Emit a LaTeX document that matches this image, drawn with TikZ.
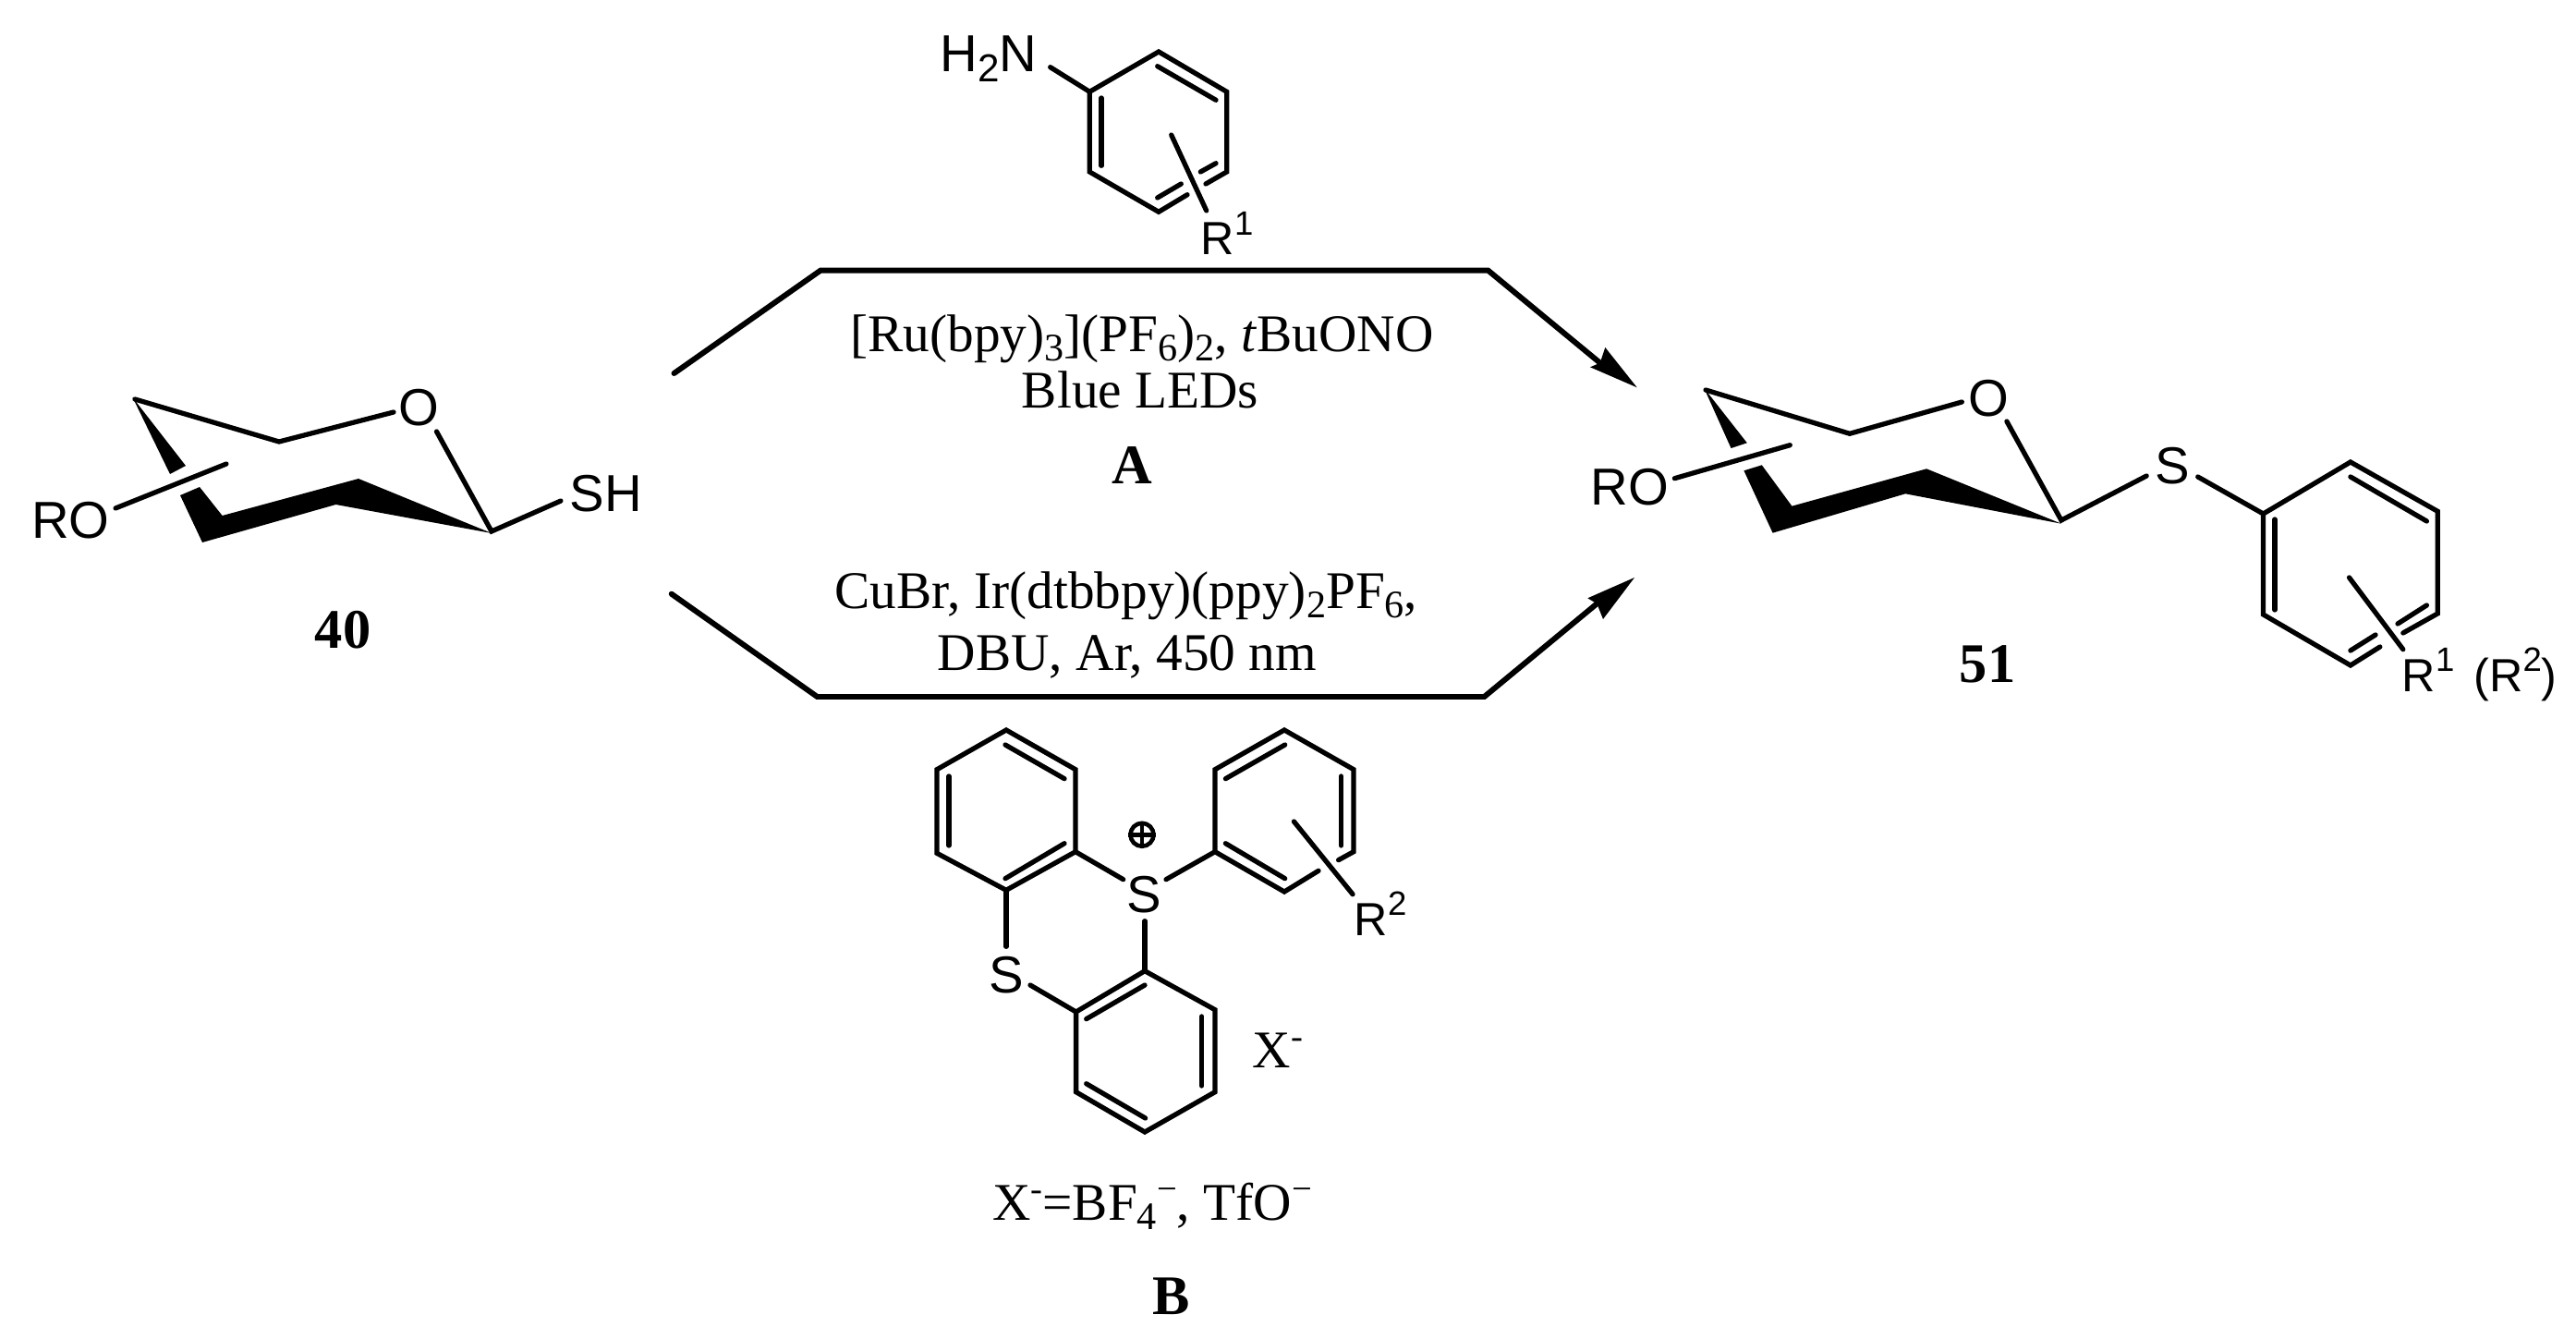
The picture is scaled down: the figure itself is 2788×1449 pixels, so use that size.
\documentclass[tikz,border=0pt]{standalone}
\usepackage{fontspec}
\setmainfont{Liberation Serif}
\newfontfamily\arial{Liberation Sans}
\newcommand{\serifsize}{\fontsize{16.3}{19}\selectfont}
\newcommand{\labsize}{\fontsize{17.2}{20}\selectfont\bfseries}
\newcommand{\sanssize}{\fontsize{16}{19}\selectfont}
\newcommand{\rsize}{\fontsize{14.3}{17}\selectfont}
\newcommand{\dn}[1]{\raisebox{-3pt}{\fontsize{12}{14}\selectfont #1}}
\newcommand{\up}[1]{\raisebox{5.8pt}{\fontsize{11}{13}\selectfont #1}}
\newcommand{\rup}[1]{\raisebox{6.2pt}{\fontsize{10.4}{12}\selectfont #1}}
\tikzset{
  bond/.style={line width=1.5pt,line cap=round,line join=miter,miter limit=10},
  wedge/.style={fill=black,draw=none},
  rxn/.style={line width=1.7pt,line join=miter,line cap=round},
  tip/.style={fill=black,draw=none},
  serif/.style={anchor=base,inner sep=0pt,font=\serifsize},
  label/.style={anchor=base,inner sep=0pt,font=\labsize},
  atom/.style={anchor=base,inner sep=0pt,font=\arial\sanssize},
  rgroup/.style={anchor=base west,inner sep=0pt,font=\arial\rsize}
}
\begin{document}
\begin{tikzpicture}[x=0.01cm,y=-0.01cm]
\useasboundingbox (0,0) rectangle (2788,1449);
\fill[white] (0,0) rectangle (2788,1449);

% ---------- reaction arrows
\coordinate (a1) at (729.5,404);
\coordinate (a2) at (888,292.7);
\coordinate (a3) at (1610.6,292.7);
\coordinate (a4) at (1731.7,392.7);
\coordinate (at) at (1771.7,419.3);
\coordinate (b1) at (726.7,642.7);
\coordinate (b2) at (884.5,754);
\coordinate (b3) at (1606.4,754);
\coordinate (b4) at (1728.3,653.3);
\coordinate (bt) at (1769,625);
\draw[rxn] (a1) -- (a2) -- (a3) -- (a4);
\draw[rxn] (b1) -- (b2) -- (b3) -- (b4);
\fill[tip] (at) -- (1737.3,376) -- (a4) -- (1721,397.3) -- cycle;
\fill[tip] (bt) -- (1718.3,647.3) -- (b4) -- (1735,670) -- cycle;

% ---------- reaction conditions
\node[serif] (c1) at (1236,380) {[Ru(bpy)\dn{3}](PF\dn{6})\dn{2}, \textit{t}BuONO};
\node[serif] (c2) at (1234,442) {Blue LEDs};
\node[label] (lA) at (1225,524) {A};
\node[serif] (c3) at (1219,658) {CuBr, Ir(dtbbpy)(ppy)\dn{2}PF\dn{6},};
\node[serif] (c4) at (1220,725) {DBU, Ar, 450 nm};
\node[serif] (c5) at (1247,1320) {X\up{-}=BF\dn{4}\up{−}, TfO\up{−}};
\node[label] (lB) at (1268,1422) {B};

% ---------- compound 40
\node[atom] (ro1) at (76.5,582) {RO};
\node[atom] (o1) at (453,460) {O};
\node[atom] (sh) at (656,554) {SH};
\node[label] (n40) at (371,701.7) {40};
\fill[wedge] (143.5,430) -- (201,504) -- (184,513) -- cycle;
\draw[bond] (146,432) -- (302,478) -- (426,446);
\draw[bond] (472.5,467) -- (532,575) -- (607,542);
\draw[bond] (125,550) -- (245,502);
\fill[wedge] (195,536) -- (216,527) -- (240.6,558) -- (388,518) -- (532,577) -- (363.5,546) -- (219,587) -- cycle;

% ---------- compound 51
\node[atom] (ro2) at (1764,546.7) {RO};
\node[atom] (o2) at (2152,450) {O};
\node[atom] (s1) at (2351,524) {S};
\node[label] (n51) at (2151,738) {51};
\node[rgroup] (r12) at (2599,748) {R\rup{1}\hspace{6pt}(R\rup{2})};
\fill[wedge] (1844.3,420) -- (1890.8,479.3) -- (1873.5,485) -- cycle;
\draw[bond] (1846,422) -- (2001.9,469.3) -- (2123.3,435);
\draw[bond] (2171.9,456) -- (2230.9,563) -- (2323.2,515);
\draw[bond] (1812.4,517.7) -- (1937.3,481.7);
\fill[wedge] (1887.4,509.3) -- (1906.8,503.3) -- (1939.4,547.7) -- (2085.1,507.3) -- (2230.9,566.7) -- (2062.2,534.3) -- (1918.6,576.7) -- cycle;
\draw[bond] (2378.7,516) -- (2449.5,556);
\draw[bond] (2600.8,685) -- (2638.2,664) -- (2638.2,553.3) -- (2543.9,500) -- (2449.5,556) -- (2449.5,665) -- (2543.9,720) -- (2575.8,700);
\draw[bond] (2462,562) -- (2462,660);
\draw[bond] (2543.9,516) -- (2626.4,564);
\draw[bond] (2626.4,655) -- (2595,675);
\draw[bond] (2543.9,704) -- (2571,687);
\draw[bond] (2542.5,625) -- (2600.8,702.7);

% ---------- aniline
\node[atom,anchor=base east] (nh2) at (1123,77.7) {H\dn{\arial 2}N};
\node[rgroup] (r1) at (1299,276) {R\rup{1}};
\draw[bond] (1136.7,72.7) -- (1179.3,99.3);
\draw[bond] (1305,199) -- (1327.7,186) -- (1327.7,99.3) -- (1254,56) -- (1179.3,99.3) -- (1179.3,186) -- (1254,229.3) -- (1285,210.7);
\draw[bond] (1192,106) -- (1192,179.3);
\draw[bond] (1252.7,71.7) -- (1316,108.3);
\draw[bond] (1316,176.7) -- (1299.3,186);
\draw[bond] (1252.7,214) -- (1278.3,199);
\draw[bond] (1267.7,146) -- (1305.7,228);

% ---------- thianthrenium salt B
\node[atom] (sp) at (1238,987) {S};
\node[atom] (s2) at (1089,1074) {S};
\node[rgroup] (r2) at (1465,1012.7) {R\rup{2}};
\node[serif,anchor=base west] (xm) at (1355,1155) {X\up{-}};
\node[circle,draw,line width=1.3pt,minimum size=0.25cm,inner sep=0pt] (plus) at (1236,903.3) {};
\draw[line width=1.3pt] (plus.west) -- (plus.east) (plus.north) -- (plus.south);
% left ring
\draw[bond] (1089,790) -- (1164,832.7) -- (1164,921.7) -- (1089,963.3) -- (1014,923.3) -- (1014,832.7) -- cycle;
\draw[bond] (1027,840) -- (1027,915);
\draw[bond] (1088,806) -- (1152,842.7);
\draw[bond] (1088,950.7) -- (1152,912.7);
% lower ring
\draw[bond] (1239,1050.7) -- (1315,1092.7) -- (1315,1181.7) -- (1239,1225) -- (1164.6,1181.7) -- (1164.6,1095) -- cycle;
\draw[bond] (1239,1066) -- (1175.7,1102.7);
\draw[bond] (1300.7,1100) -- (1300.7,1175);
\draw[bond] (1175.7,1172.7) -- (1239.6,1210);
% right ring
\draw[bond] (1448.6,930.7) -- (1465,921.7) -- (1465,832.7) -- (1390,790) -- (1315,832.7) -- (1315,921.7) -- (1390,965) -- (1427,942.3);
\draw[bond] (1326.4,842.7) -- (1390.7,806);
\draw[bond] (1451.4,840) -- (1451.4,915);
\draw[bond] (1326.4,912.7) -- (1390.7,950.7);
\draw[bond] (1400.4,889) -- (1464,967.7);
% S links
\draw[bond] (1164,921.7) -- (1215.7,951.7);
\draw[bond] (1262,951.7) -- (1315,921.7);
\draw[bond] (1239,996.7) -- (1239,1050.7);
\draw[bond] (1089,963.3) -- (1089,1024.3);
\draw[bond] (1115,1066) -- (1164.6,1095);
\end{tikzpicture}
\end{document}
